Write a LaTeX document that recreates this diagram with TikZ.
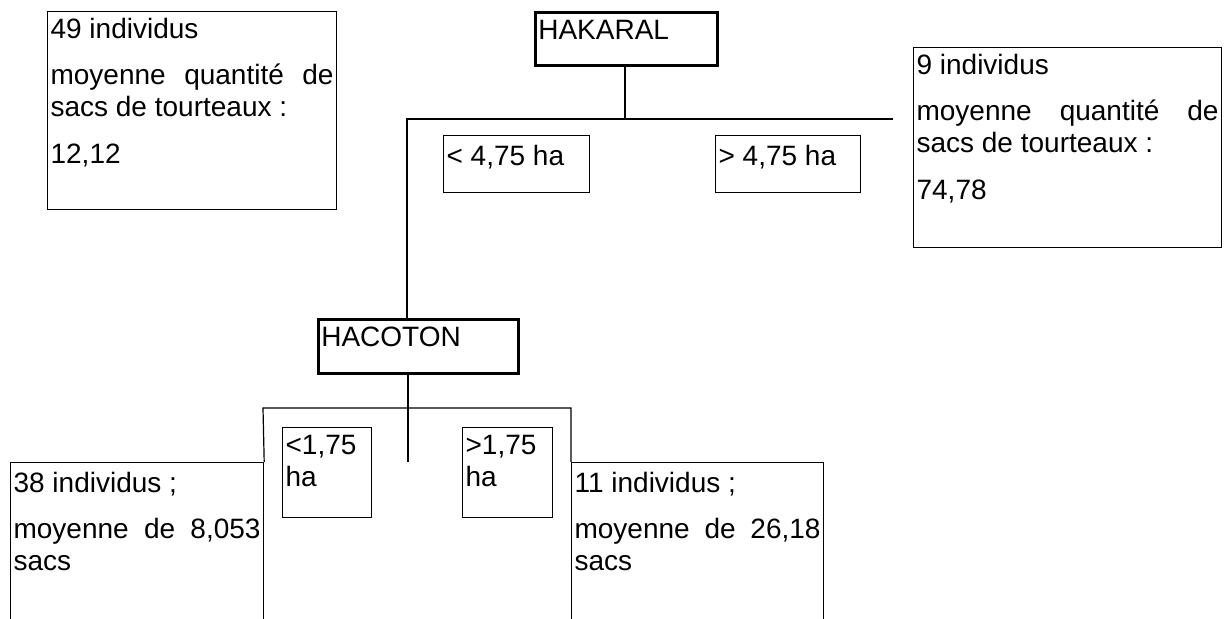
\documentclass[tikz,border=0pt]{standalone}
\usepackage{fontspec}
\setmainfont{Liberation Sans}
\usepackage{tikz}
\usetikzlibrary{positioning, calc}

\begin{document}
\begin{tikzpicture}[x=0.5pt, y=-0.5pt,
        box/.style={draw, line width=0.6pt, anchor=north west, inner xsep=1.5pt, inner ysep=2pt, text height=11.5pt, align=justify, font=\fontsize{14}{16.1}\selectfont},
        splitbox/.style={box, line width=1.3pt, align=left},
        thickline/.style={line width=1.3pt},
        thinline/.style={line width=0.6pt}]
        \useasboundingbox (0,0) rectangle (1228,619);
        \clip (0,0) rectangle (1228,619);

        % first split
        \node[splitbox, text width=88pt, text depth=11pt] (hakaral) at (534,11) {HAKARAL};
        \node[box, text width=70pt, text height=13pt, text depth=11.5pt] (lt475) at (443,135) {< 4,75 ha};
        \node[box, text width=69.5pt, text height=13pt, text depth=11.5pt] (gt475) at (715,135) {> 4,75 ha};
        \node[box, text width=141.5pt, text depth=83.5pt] (n49) at (47,11) {49 individus\\[7pt]moyenne quantité de\linebreak sacs de tourteaux :\\[7pt]12,12};
        \node[box, text width=151pt, text depth=84.5pt] (n9) at (913,47) {9 individus\\[7pt]moyenne quantité de\linebreak sacs de tourteaux :\\[7pt]74,78};

        % second split
        \node[splitbox, text width=97pt, text depth=11.5pt] (hacoton) at (317,318) {HACOTON};
        \node[box, align=left, text width=41.5pt, text depth=29.5pt] (lt175) at (282,427) {<1,75\\ha};
        \node[box, align=left, text width=42pt, text depth=29.5pt] (gt175) at (462,427) {>1,75\\ha};
        \node[box, text width=123.5pt, text height=13pt, text depth=82pt] (n38) at (10,462) {38 individus ;\\[7pt]moyenne de 8,053\linebreak sacs};
        \node[box, text width=123pt, text height=13pt, text depth=82pt] (n11) at (571,462) {11 individus ;\\[7pt]moyenne de 26,18\linebreak sacs};

        \coordinate (jointop) at (625,119);
        \coordinate (leftend) at (407,119);
        \coordinate (rightend) at (893,119);
        \coordinate (stub) at (408,462);
        \coordinate (splitL) at (263,408);
        \coordinate (splitR) at (571,408);

        \draw[thickline] (jointop |- hakaral.south) -- (jointop);
        \draw[thickline] (rightend) -- (leftend) -- (leftend |- hacoton.north);
        \draw[thinline] (stub |- hacoton.south) -- (stub);
        \draw[thinline] (n38.north east) -- (splitL) -- (splitR) -- (n11.north west);
\end{tikzpicture}
\end{document}
